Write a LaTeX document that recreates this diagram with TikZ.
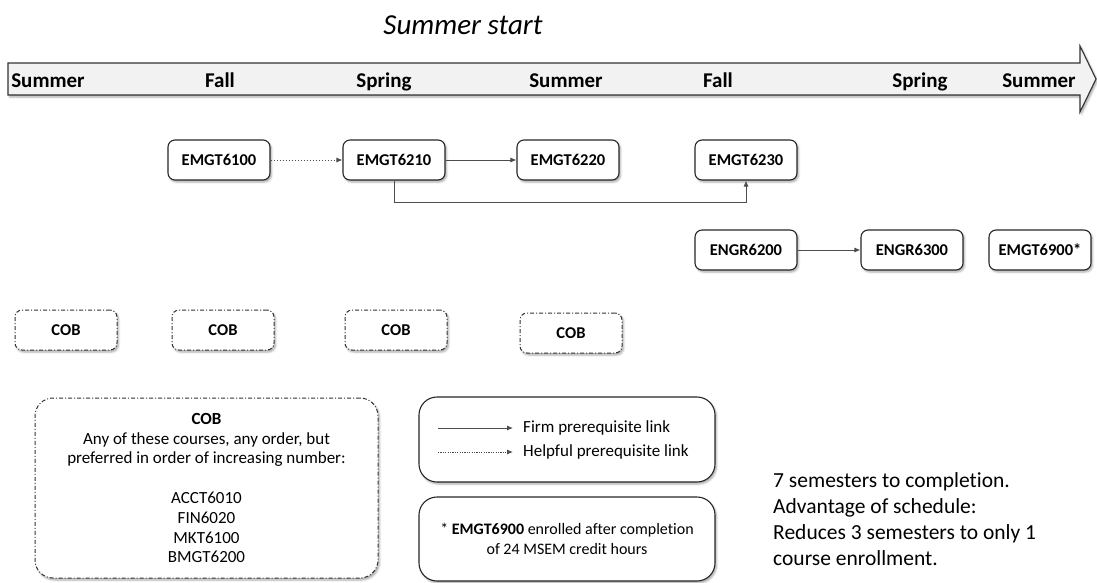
\documentclass[tikz,border=0pt]{standalone}
\usepackage{fontspec}
\setmainfont{Carlito}[Ligatures=NoCommon]
\usetikzlibrary{arrows.meta,shadows.blur}
\begin{document}
\begin{tikzpicture}[x=1pt,y=-1pt,
  shad/.style={blur shadow={shadow xshift=1.5pt,shadow yshift=-2pt,shadow blur radius=2pt,shadow opacity=35}},
  course/.style={draw=black!85,line width=1.1pt,fill=white,rounded corners=7pt,minimum width=102pt,minimum height=40pt,inner sep=0pt,font=\fontsize{16.5}{19}\selectfont\bfseries,shad},
  cob/.style={draw=black!80,line width=1pt,fill=white,rounded corners=7pt,minimum width=102pt,minimum height=40pt,inner sep=0pt,dash pattern=on 4pt off 2pt on 1pt off 2pt,font=\fontsize{16.5}{19}\selectfont\bfseries,shad},
  bigbox/.style={draw=black!85,line width=1.1pt,fill=white,rounded corners=18pt,inner sep=0pt,shad},
  sem/.style={anchor=base,inner sep=0pt,font=\fontsize{21}{25}\selectfont\bfseries},
  firm/.style={draw=black!70,line width=0.9pt,-{Latex[length=6pt,width=5pt]}},
  helpful/.style={draw=black!70,line width=0.9pt,dash pattern=on 1.5pt off 1.5pt,-{Latex[length=6pt,width=5pt]}}
]
\useasboundingbox (0,0) rectangle (1097,582);

% title
\node[font=\fontsize{29}{34}\selectfont\itshape] (title) at (463,25) {Summer start};

% timeline arrow
\draw[draw=black!80,line width=1.1pt,fill=black!5,shad]
  (8,63) -- (1080,63) -- (1080,46) -- (1096,79) -- (1080,112) -- (1080,95) -- (8,95) -- cycle;
\node[sem] (s1) at (48,87) {Summer};
\node[sem] (f1) at (220,87) {Fall};
\node[sem] (p1) at (384,87) {Spring};
\node[sem] (s2) at (566,87) {Summer};
\node[sem] (f2) at (718,87) {Fall};
\node[sem] (p2) at (920,87) {Spring};
\node[sem] (s3) at (1039,87) {Summer};

% courses
\node[course] (e6100) at (219,160) {EMGT6100};
\node[course] (e6210) at (394,160) {EMGT6210};
\node[course] (e6220) at (568,160) {EMGT6220};
\node[course] (e6230) at (746,160) {EMGT6230};
\node[course] (g6200) at (746,250) {ENGR6200};
\node[course] (g6300) at (912,250) {ENGR6300};
\node[course] (e6900) at (1040,250) {EMGT6900*};

\draw[helpful] (e6100) -- (e6210);
\draw[firm] (e6210) -- (e6220);
\draw[firm] (e6210.south) -- ++(0,22) -| (e6230.south);
\draw[firm] (g6200) -- (g6300);

% COB slots
\node[cob] (c1) at (66,330) {COB};
\node[cob] (c2) at (223,330) {COB};
\node[cob] (c3) at (396,330) {COB};
\node[cob] (c4) at (571,333) {COB};

% COB explanation
\node[bigbox,dash pattern=on 4pt off 2pt on 1pt off 2pt,draw=black!80,line width=1pt,minimum width=343pt,minimum height=180pt,
  align=center,font=\fontsize{17}{19.8}\selectfont] (cobbox) at (206.5,488)
  {\textbf{COB}\\Any of these courses, any order, but\\preferred in order of increasing number:\\[19.8pt]ACCT6010\\FIN6020\\MKT6100\\BMGT6200};

% legend
\node[bigbox,minimum width=296pt,minimum height=85pt] (legend) at (567,439.5) {};
\coordinate (l1a) at (438,428);
\coordinate (l1b) at (513,428);
\coordinate (l2a) at (438,452);
\coordinate (l2b) at (513,452);
\draw[firm] (l1a) -- (l1b);
\draw[helpful,dash pattern=on 1.2pt off 1.2pt] (l2a) -- (l2b);
\node[anchor=west,font=\fontsize{17}{19}\selectfont,inner sep=0pt] (lt1) at (523,428) {Firm prerequisite link};
\node[anchor=west,font=\fontsize{17}{19}\selectfont,inner sep=0pt] (lt2) at (523,452) {Helpful prerequisite link};

% note
\node[bigbox,minimum width=296pt,minimum height=84pt,align=center,font=\fontsize{16}{20}\selectfont] (note) at (567,539)
  {* \textbf{EMGT6900} enrolled after completion\\of 24 MSEM credit hours};

% summary text
\node[anchor=north west,align=left,inner sep=0pt,font=\fontsize{21.5}{26}\selectfont] (summary) at (773,472)
  {7 semesters to completion.\\Advantage of schedule:\\Reduces 3 semesters to only 1\\course enrollment.};
\end{tikzpicture}
\end{document}
